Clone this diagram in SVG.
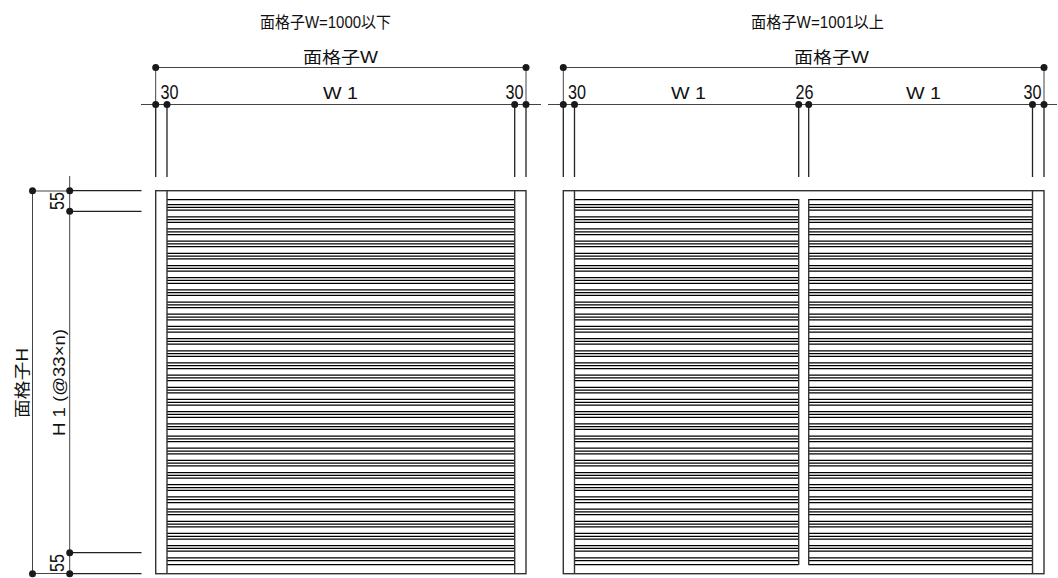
<svg xmlns="http://www.w3.org/2000/svg" width="1058" height="578" viewBox="0 0 1058 578">
<defs>
<clipPath id="cl"><rect x="167" y="195" width="348" height="375"/></clipPath>
<clipPath id="cr"><path d="M574.500 195H798.500V570H574.500ZM808.500 195H1032.500V570H808.500Z"/></clipPath>
<path id="rows" d="M0 199.700H1058M0 204.600H1058M0 207.400H1058M0 210.200H1058M0 216.780H1058M0 219.580H1058M0 222.380H1058M0 228.960H1058M0 231.760H1058M0 234.560H1058M0 241.140H1058M0 243.940H1058M0 246.740H1058M0 253.320H1058M0 256.120H1058M0 258.920H1058M0 265.500H1058M0 268.300H1058M0 271.100H1058M0 277.680H1058M0 280.480H1058M0 283.280H1058M0 289.860H1058M0 292.660H1058M0 295.460H1058M0 302.040H1058M0 304.840H1058M0 307.640H1058M0 314.220H1058M0 317.020H1058M0 319.820H1058M0 326.400H1058M0 329.200H1058M0 332H1058M0 338.580H1058M0 341.380H1058M0 344.180H1058M0 350.760H1058M0 353.560H1058M0 356.360H1058M0 362.940H1058M0 365.740H1058M0 368.540H1058M0 375.120H1058M0 377.920H1058M0 380.720H1058M0 387.300H1058M0 390.100H1058M0 392.900H1058M0 399.480H1058M0 402.280H1058M0 405.080H1058M0 411.660H1058M0 414.460H1058M0 417.260H1058M0 423.840H1058M0 426.640H1058M0 429.440H1058M0 436.020H1058M0 438.820H1058M0 441.620H1058M0 448.200H1058M0 451H1058M0 453.800H1058M0 460.380H1058M0 463.180H1058M0 465.980H1058M0 472.560H1058M0 475.360H1058M0 478.160H1058M0 484.740H1058M0 487.540H1058M0 490.340H1058M0 496.920H1058M0 499.720H1058M0 502.520H1058M0 509.100H1058M0 511.900H1058M0 514.700H1058M0 521.280H1058M0 524.080H1058M0 526.880H1058M0 533.460H1058M0 536.260H1058M0 539.060H1058M0 545.640H1058M0 548.440H1058M0 551.240H1058M0 557.820H1058M0 560.620H1058M0 564.600H1058" stroke="#000" stroke-width="1.25" fill="none"/>
<circle id="d" r="3.5" fill="#1a1a1a"/>
</defs>
<style>
.l{stroke:#444;stroke-width:1;fill:none}
.e{stroke:#222;stroke-width:1.3;fill:none}
.f{stroke:#333;stroke-width:1.4;fill:none}
text{font-family:"Liberation Sans","Noto Sans CJK JP",sans-serif;fill:#111}
.t{font-size:16px}
.s{font-size:16px}
.n{font-size:20px;text-anchor:middle}
</style>
<rect width="1058" height="578" fill="#fff"/>
<g id="connectors">
<path class="l" d="M155.700 67.500H526M155.700 67.500V105M526 67.500V105M141 104.500H541M563.300 67.500H1044M563.300 67.500V105M1044 67.500V105M548 104.500H1057"/>
<path class="e" d="M155.700 105V177M167 105V177M514.700 105V177M526 105V177M563.300 105V177M574.500 105V177M798.700 105V177M808.700 105V177M1032.500 105V177M1044 105V177"/>
<path class="l" d="M32.500 191V573.500M32.500 191H69.700M69.700 176V573.500M32.500 573.500H69.700"/>
<path class="e" d="M69.700 190.700H141.500M69.700 211.300H141.500M69.700 552.700H141.500M69.700 573.700H141.500"/>
<g>
<use href="#d" x="155.700" y="67.500"/><use href="#d" x="526" y="67.500"/><use href="#d" x="155.700" y="104.500"/><use href="#d" x="167" y="104.500"/><use href="#d" x="514.700" y="104.500"/><use href="#d" x="526" y="104.500"/>
<use href="#d" x="563.300" y="67.500"/><use href="#d" x="1044" y="67.500"/><use href="#d" x="563.300" y="104.500"/><use href="#d" x="574.500" y="104.500"/><use href="#d" x="798.700" y="104.500"/><use href="#d" x="808.700" y="104.500"/><use href="#d" x="1032.500" y="104.500"/><use href="#d" x="1044" y="104.500"/>
<use href="#d" x="32.500" y="190.700"/><use href="#d" x="69.700" y="190.700"/><use href="#d" x="69.700" y="211.300"/><use href="#d" x="69.700" y="552.700"/><use href="#d" x="32.500" y="573.700"/><use href="#d" x="69.700" y="573.700"/>
</g>
</g>
<g id="panel-left">
<g clip-path="url(#cl)"><use href="#rows"/></g>
<rect class="f" x="155.700" y="190.700" width="370.300" height="383"/>
<path class="f" d="M167 190.700V573.700M514.700 190.700V573.700"/>
</g>
<g id="panel-right">
<g clip-path="url(#cr)"><use href="#rows"/></g>
<rect class="f" x="563.300" y="190.700" width="480.700" height="383"/>
<path class="f" d="M574.500 190.700V573.700M1032.500 190.700V573.700M798.700 199V565M808.700 199V565"/>
</g>
<g id="labels">
<text class="t" x="260" y="28" textLength="131" lengthAdjust="spacingAndGlyphs">面格子W=1000以下</text>
<text class="t" x="751" y="28" textLength="133" lengthAdjust="spacingAndGlyphs">面格子W=1001以上</text>
<text class="s" x="303" y="63" textLength="75" lengthAdjust="spacingAndGlyphs">面格子W</text>
<text class="s" x="794" y="63" textLength="75" lengthAdjust="spacingAndGlyphs">面格子W</text>
<text class="n" x="169.500" y="99" textLength="18" lengthAdjust="spacingAndGlyphs">30</text>
<text class="n" x="514.500" y="99" textLength="18" lengthAdjust="spacingAndGlyphs">30</text>
<text class="n" x="577" y="99" textLength="18" lengthAdjust="spacingAndGlyphs">30</text>
<text class="n" x="804.500" y="99" textLength="18" lengthAdjust="spacingAndGlyphs">26</text>
<text class="n" x="1032.500" y="99" textLength="18" lengthAdjust="spacingAndGlyphs">30</text>
<text class="s" x="323" y="99" textLength="35" lengthAdjust="spacingAndGlyphs">W 1</text>
<text class="s" x="671" y="99" textLength="35" lengthAdjust="spacingAndGlyphs">W 1</text>
<text class="s" x="906" y="99" textLength="35" lengthAdjust="spacingAndGlyphs">W 1</text>
<text class="n" transform="translate(63.500 201) rotate(-90)" textLength="18" lengthAdjust="spacingAndGlyphs">55</text>
<text class="n" transform="translate(63.500 563) rotate(-90)" textLength="18" lengthAdjust="spacingAndGlyphs">55</text>
<text class="s" transform="translate(28 418) rotate(-90)" textLength="70" lengthAdjust="spacingAndGlyphs">面格子H</text>
<text class="s" transform="translate(65 436) rotate(-90)" textLength="107" lengthAdjust="spacingAndGlyphs">H 1 (@33×n)</text>
</g>
</svg>
